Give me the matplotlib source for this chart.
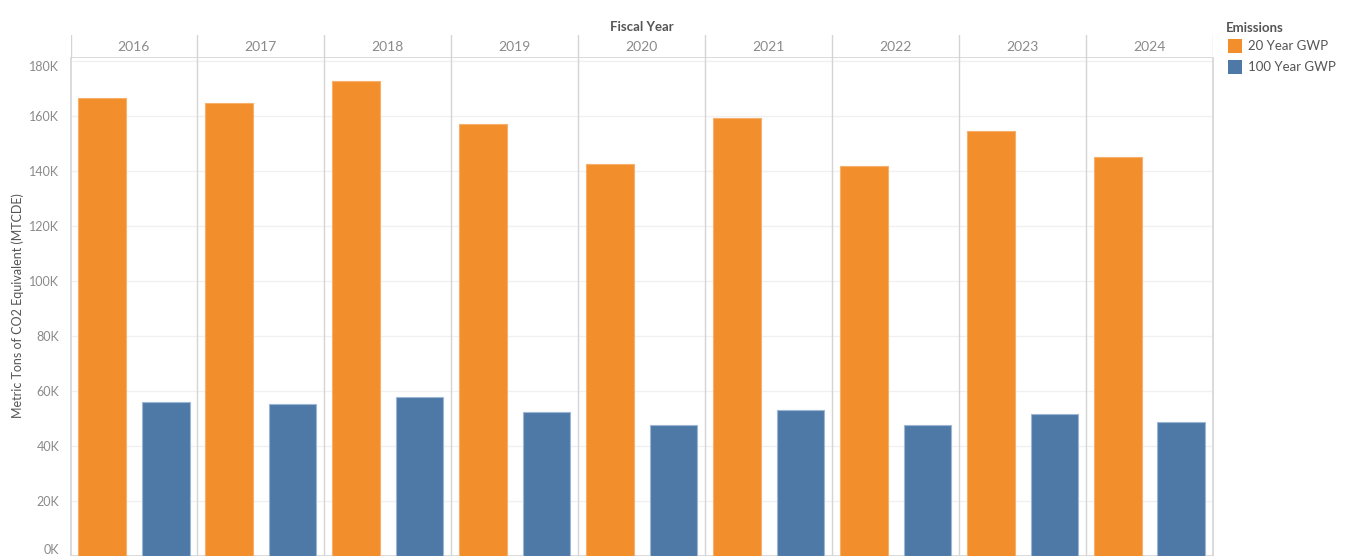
import matplotlib
matplotlib.use("Agg")
import matplotlib.pyplot as plt
from matplotlib.patches import Rectangle

plt.rcParams['font.family'] = ['Lato', 'DejaVu Sans']

years = ['2016', '2017', '2018', '2019', '2020', '2021', '2022', '2023', '2024']
series_names = ['20 Year GWP', '100 Year GWP']
gwp20 = [166700, 164800, 172800, 157200, 142400, 159300, 142000, 154600, 145200]
gwp100 = [55900, 55100, 57700, 52500, 47700, 53200, 47700, 51800, 48700]
ytick_vals = [0, 20000, 40000, 60000, 80000, 100000, 120000, 140000, 160000, 180000]
ytick_labels = ['0K', '20K', '40K', '60K', '80K', '100K', '120K', '140K', '160K', '180K']

colors = ['#F28E2B', '#4E79A7']
edge_colors = ['#F6B06C', '#9DB6D2']
grid_c = '#F0F0F0'
sep_c = '#D4D4D4'
tick_c = '#8A8A8A'
title_c = '#555555'

W, H = 1370, 556
fig = plt.figure(figsize=(W / 100, H / 100), dpi=100)

left, right = 70.5 / W, 1213 / W
top_px, bot_px = 57.5, 556
ax = fig.add_axes([left, 1 - bot_px / H, right - left, (bot_px - top_px) / H])
n = len(years)
ax.set_xlim(-0.5, 2 * n - 0.5)
ax.set_ylim(0, 181300)

for i in range(n):
    for j, vals in enumerate([gwp20, gwp100]):
        ax.bar(2 * i + j, vals[i], width=0.75, color=colors[j],
               edgecolor=edge_colors[j], linewidth=0.8, zorder=3)

ax.set_yticks(ytick_vals)
ax.set_yticklabels(ytick_labels)
ax.tick_params(axis='y', length=0, colors=tick_c, labelsize=9, pad=8)
ax.tick_params(axis='x', length=0, labelbottom=False)
labs = ax.get_yticklabels()
labs[0].set_va('bottom')
labs[-1].set_va('top')
for v in ytick_vals:
    ax.axhline(v, color=grid_c, lw=1, zorder=1)
for i in range(1, n):
    ax.axvline(2 * i - 0.5, color=sep_c, lw=1, zorder=2)
ax.spines['top'].set_visible(False)
for s in ['left', 'right', 'bottom']:
    ax.spines[s].set_color(sep_c)
    ax.spines[s].set_linewidth(1.2)

fig.text(18 / W, 1 - 306 / H, 'Metric Tons of CO2 Equivalent (MTCDE)', rotation=90,
         ha='center', va='center', color=title_c, fontsize=9)

# header
hax = fig.add_axes([left, 1 - top_px / H, right - left, (top_px - 35) / H])
hax.set_xlim(-0.5, 2 * n - 0.5)
hax.set_ylim(0, 1)
hax.axis('off')
hax.axhline(0, color=sep_c, lw=1.2)
for i in range(0, n + 1):
    hax.axvline(2 * i - 0.5, color=sep_c, lw=1)
for i, y in enumerate(years):
    hax.text(2 * i + 0.5, 0.45, y, ha='center', va='center', color=tick_c, fontsize=10)
fig.text((70.5 + 1213) / 2 / W, 1 - 27 / H, 'Fiscal Year', ha='center', va='center',
         color=title_c, fontsize=9.5, fontweight='bold')

# legend
fig.text(1226 / W, 1 - 28 / H, 'Emissions', ha='left', va='center', color=title_c,
         fontsize=9.5, fontweight='bold')
for j, name in enumerate(series_names):
    yc = 46 + j * 21
    fig.patches.append(Rectangle((1228 / W, 1 - (yc + 7) / H), 14 / W, 14 / H,
                                 transform=fig.transFigure, facecolor=colors[j],
                                 edgecolor='none'))
    fig.text(1248 / W, 1 - yc / H, name, ha='left', va='center', color=title_c, fontsize=9.5)

fig.savefig('out.png', dpi=100)
